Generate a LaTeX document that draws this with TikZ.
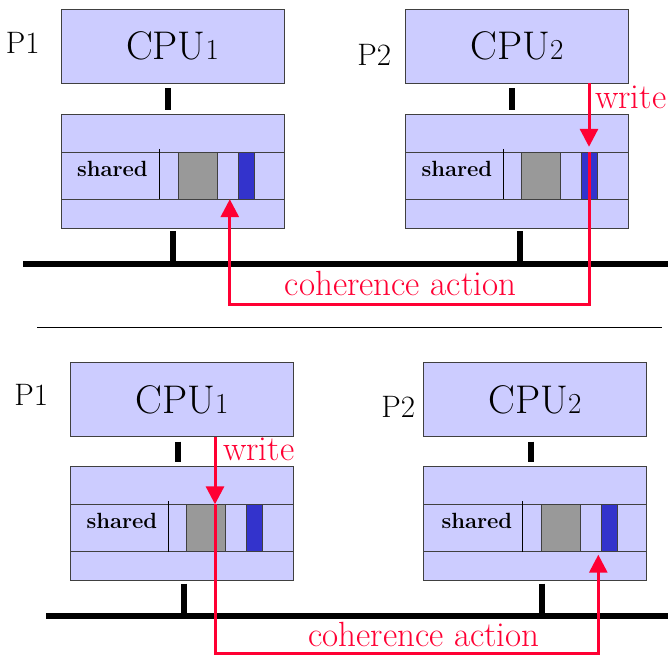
\documentclass[tikz,border=0pt]{standalone}
\usetikzlibrary{positioning,arrows.meta}

\definecolor{lavender}{HTML}{CCCCFF}
\definecolor{blockgray}{HTML}{999999}
\definecolor{lineblue}{HTML}{3333CC}
\definecolor{alertred}{HTML}{FF0033}

% CPU name with a small digit on the baseline
\newcommand\cpulabel[1]{CPU{\fontsize{29}{29}\selectfont #1}}

\begin{document}
\begin{tikzpicture}[x=1pt,y=-1pt,
    cpubox/.style={draw=black!75, fill=lavender, minimum width=223pt, minimum height=74pt,
                   inner sep=0pt, font=\fontsize{40}{44}\selectfont},
    cachebox/.style={draw=black!75, fill=lavender, minimum width=223pt, minimum height=114pt, inner sep=0pt},
    band/.style={draw=black!75, minimum width=223pt, minimum height=47pt, inner sep=0pt},
    graybox/.style={draw=black!75, fill=blockgray, minimum width=39pt, minimum height=47pt, inner sep=0pt},
    bluebox/.style={draw=black!75, fill=lineblue, minimum width=16pt, minimum height=47pt, inner sep=0pt},
    plabel/.style={inner sep=0pt, font=\fontsize{31}{34}\selectfont},
    tag/.style={inner sep=0pt, font=\fontsize{22}{25}\selectfont\bfseries},
    stub/.style={line width=6pt},
    bus/.style={line width=6pt},
    redarrow/.style={draw=alertred, line width=3pt, -{Triangle[length=18pt,width=18pt]}},
    redtext/.style={text=alertred, inner sep=0pt, font=\fontsize{35}{38}\selectfont}]
  \useasboundingbox (0,0) rectangle (668,656);

  % ---- upper half: P2 writes ----
  \node[cpubox]   (cpu1)   at (172.5,46)  {\cpulabel{1}};
  \node[cachebox] (cache1) at (172.5,171) {};
  \node[band]     (band1)  at ([yshift=-4.5pt]cache1.center) {};
  \node[tag,     right=16pt of band1.west, yshift=7pt] (shared1) {shared};
  \node[graybox, right=117pt of band1.west] (gray1) {};
  \node[bluebox, right=177pt of band1.west] (blue1) {};
  \draw ([xshift=98pt,yshift=3pt]band1.north west) -- ([xshift=98pt]band1.south west);
  \node[plabel, left=21pt of cpu1.west, yshift=3pt] (p1) {P1};

  \node[cpubox]   (cpu2)   at (517,46)  {\cpulabel{2}};
  \node[cachebox] (cache2) at (517,171) {};
  \node[band]     (band2)  at ([yshift=-4.5pt]cache2.center) {};
  \node[tag,     right=16pt of band2.west, yshift=7pt] (shared2) {shared};
  \node[graybox, right=116pt of band2.west] (gray2) {};
  \node[bluebox, right=176pt of band2.west] (blue2) {};
  \draw ([xshift=98pt,yshift=3pt]band2.north west) -- ([xshift=98pt]band2.south west);
  \node[plabel, left=14pt of cpu2.west, yshift=-9pt] (p2) {P2};

  \coordinate (bus_l) at (23,264);
  \coordinate (bus_r) at (668,264);
  \draw[bus] (bus_l) -- (bus_r);
  \draw[stub, shorten <=5pt, shorten >=4pt] ([xshift=-4.5pt]cpu1.south) -- ([xshift=-4.5pt]cpu1.south |- cache1.north);
  \draw[stub, shorten <=3pt] ([xshift=0.5pt]cache1.south) -- ([xshift=0.5pt]cache1.south |- bus_l);
  \draw[stub, shorten <=5pt, shorten >=4pt] ([xshift=-5pt]cpu2.south) -- ([xshift=-5pt]cpu2.south |- cache2.north);
  \draw[stub, shorten <=3pt] ([xshift=3pt]cache2.south) -- ([xshift=3pt]cache2.south |- bus_l);

  \coordinate (w2)    at ([xshift=72pt]cpu2.south);
  \coordinate (turn1) at (0,304);
  \coordinate (hit1)  at ([xshift=169pt]band1.south west);
  \draw[redarrow, shorten >=5pt] (w2) -- (w2 |- band2.north);
  \draw[redarrow] (w2 |- band2.north) -- (w2 |- turn1) -| (hit1);
  \node[redtext, anchor=west] (write2) at (595,97) {write};
  \node[redtext] (coh1) at (400.5,283) {coherence action};

  \draw (37,327) -- (662,327);

  % ---- lower half: P1 writes ----
  \node[cpubox]   (cpu1b)   at (182,399.5) {\cpulabel{1}};
  \node[cachebox] (cache1b) at (182,523.5) {};
  \node[band]     (band1b)  at ([yshift=-4.5pt]cache1b.center) {};
  \node[tag,     right=16pt of band1b.west, yshift=7pt] (shared1b) {shared};
  \node[graybox, right=116pt of band1b.west] (gray1b) {};
  \node[bluebox, right=176pt of band1b.west] (blue1b) {};
  \draw ([xshift=98pt,yshift=3pt]band1b.north west) -- ([xshift=98pt]band1b.south west);
  \node[plabel, left=22pt of cpu1b.west, yshift=4.5pt] (p1b) {P1};

  \node[cpubox]   (cpu2b)   at (535,399.5) {\cpulabel{2}};
  \node[cachebox] (cache2b) at (535,523.5) {};
  \node[band]     (band2b)  at ([yshift=-4.5pt]cache2b.center) {};
  \node[tag,     right=18pt of band2b.west, yshift=7pt] (shared2b) {shared};
  \node[graybox, right=118pt of band2b.west] (gray2b) {};
  \node[bluebox, right=178pt of band2b.west] (blue2b) {};
  \draw ([xshift=99pt,yshift=3pt]band2b.north west) -- ([xshift=99pt]band2b.south west);
  \node[plabel, left=8pt of cpu2b.west, yshift=-7.5pt] (p2b) {P2};

  \coordinate (busb_l) at (46,616);
  \coordinate (busb_r) at (668,616);
  \draw[bus] (busb_l) -- (busb_r);
  \draw[stub, shorten <=5pt, shorten >=4pt] ([xshift=-4pt]cpu1b.south) -- ([xshift=-4pt]cpu1b.south |- cache1b.north);
  \draw[stub, shorten <=3pt] ([xshift=2pt]cache1b.south) -- ([xshift=2pt]cache1b.south |- busb_l);
  \draw[stub, shorten <=5pt, shorten >=4pt] ([xshift=-4pt]cpu2b.south) -- ([xshift=-4pt]cpu2b.south |- cache2b.north);
  \draw[stub, shorten <=3pt] ([xshift=7pt]cache2b.south) -- ([xshift=7pt]cache2b.south |- busb_l);

  \coordinate (w1b)   at ([xshift=33pt]cpu1b.south);
  \coordinate (turn2) at (0,653);
  \coordinate (hit2)  at ([xshift=175pt]band2b.south west);
  \draw[redarrow] (w1b) -- (w1b |- band1b.north);
  \draw[redarrow, shorten >=3pt] (w1b |- band1b.north) -- (w1b |- turn2) -| (hit2);
  \node[redtext, anchor=west] (write1b) at (223,449) {write};
  \node[redtext] (coh2) at (424,634) {coherence action};
\end{tikzpicture}
\end{document}
